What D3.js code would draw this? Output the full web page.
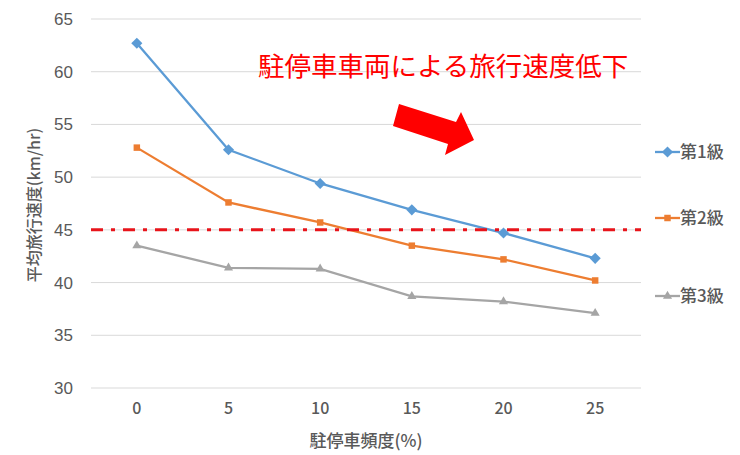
<!DOCTYPE html>
<html>
<head>
<meta charset="utf-8">
<script src="https://cdn.jsdelivr.net/npm/d3@7"></script>
<style>
  body { margin: 0; background: #fff; }
  svg { display: block; }
  text { font-family: "Noto Sans CJK JP", "Noto Sans", sans-serif; }
</style>
</head>
<body>
<svg id="chart" width="740" height="455"></svg>
<script>
// 駐停車頻度別の平均旅行速度
const categories = [0, 5, 10, 15, 20, 25];
const seriesNames = ["第1級", "第2級", "第3級"];
const speedClass1 = [62.7, 52.6, 49.4, 46.9, 44.7, 42.3];
const speedClass2 = [52.8, 47.6, 45.7, 43.5, 42.2, 40.2];
const speedClass3 = [43.5, 41.4, 41.3, 38.7, 38.2, 37.1];
const yTicks = [30, 35, 40, 45, 50, 55, 60, 65];
const thresholdSpeed = 45;
const annotationText = "駐停車車両による旅行速度低下";

// 縦横同じ幅のひし形マーカー
const squareDiamond = {
  draw(context, size) {
    const r = Math.sqrt(size / 2);
    context.moveTo(0, -r);
    context.lineTo(r, 0);
    context.lineTo(0, r);
    context.lineTo(-r, 0);
    context.closePath();
  }
};

const seriesColors = ["#5B9BD5", "#ED7D31", "#A5A5A5"];
const seriesShapes = [squareDiamond, d3.symbolSquare, d3.symbolTriangle];
const seriesSizes = [62, 42, 36];
const seriesData = [speedClass1, speedClass2, speedClass3];

const svg = d3.select("#chart");
const plot = { left: 91, right: 641, top: 19, bottom: 388 };

const x = d3.scaleBand()
  .domain(categories)
  .range([plot.left, plot.right]);
const y = d3.scaleLinear()
  .domain([30, 65])
  .range([plot.bottom, plot.top]);
const cx = d => x(d) + x.bandwidth() / 2;

// 目盛線
svg.append("g")
  .selectAll("line")
  .data(yTicks)
  .join("line")
  .attr("x1", plot.left)
  .attr("x2", plot.right)
  .attr("y1", d => y(d))
  .attr("y2", d => y(d))
  .attr("stroke", "#D9D9D9")
  .attr("stroke-width", 1);

// Y軸
const yAxis = svg.append("g")
  .attr("transform", `translate(${plot.left},0)`)
  .call(d3.axisLeft(y).tickValues(yTicks).tickSize(0).tickPadding(18));
yAxis.select(".domain").remove();
yAxis.selectAll("text")
  .attr("fill", "#595959")
  .style("font-size", "17px")
  .style("font-family", "'Liberation Sans', Arial, sans-serif");

// X軸
const xAxis = svg.append("g")
  .attr("transform", `translate(0,${plot.bottom})`)
  .call(d3.axisBottom(x).tickSize(0).tickPadding(15));
xAxis.select(".domain").remove();
xAxis.selectAll("text")
  .attr("fill", "#595959")
  .style("font-size", "16px")
  .style("font-weight", "500");

// 軸タイトル
svg.append("text")
  .attr("x", 366)
  .attr("y", 447)
  .attr("text-anchor", "middle")
  .attr("fill", "#595959")
  .style("font-size", "17px")
  .style("font-weight", "500")
  .text("駐停車頻度(%)");

svg.append("text")
  .attr("transform", "translate(40,205) rotate(-90)")
  .attr("text-anchor", "middle")
  .attr("fill", "#595959")
  .style("font-size", "16px")
  .style("font-weight", "500")
  .text("平均旅行速度(km/hr)");

// 系列の線とマーカー
const line = d3.line()
  .x((d, i) => cx(categories[i]))
  .y(d => y(d));

seriesData.forEach((vals, s) => {
  svg.append("path")
    .datum(vals)
    .attr("d", line)
    .attr("fill", "none")
    .attr("stroke", seriesColors[s])
    .attr("stroke-width", 2.3);
  svg.append("g")
    .selectAll("path")
    .data(vals)
    .join("path")
    .attr("transform", (d, i) => `translate(${cx(categories[i])},${y(d)})`)
    .attr("d", d3.symbol().type(seriesShapes[s]).size(seriesSizes[s]))
    .attr("fill", seriesColors[s]);
});

// 45 km/h の基準線
svg.append("line")
  .attr("x1", plot.left)
  .attr("x2", plot.right)
  .attr("y1", y(thresholdSpeed))
  .attr("y2", y(thresholdSpeed))
  .attr("stroke", "#E8141B")
  .attr("stroke-width", 3)
  .attr("stroke-dasharray", "12,8,4,8");

// 注記
svg.append("text")
  .attr("x", 258)
  .attr("y", 76)
  .attr("fill", "#FF0000")
  .style("font-size", "26.5px")
  .text(annotationText);

// 低下を示す矢印
const arrowPts = [
  [399, 104], [456, 122], [461, 112], [474, 140],
  [445, 155], [448, 144], [393, 126]
];
svg.append("path")
  .attr("d", d3.line()(arrowPts) + "Z")
  .attr("fill", "#FF0000");

// 凡例
const legendY = [152, 218, 296];
const legend = svg.append("g");
seriesNames.forEach((name, s) => {
  const g = legend.append("g").attr("transform", `translate(0,${legendY[s]})`);
  g.append("line")
    .attr("x1", 655).attr("x2", 680)
    .attr("y1", 0).attr("y2", 0)
    .attr("stroke", seriesColors[s])
    .attr("stroke-width", 2.3);
  g.append("path")
    .attr("transform", "translate(667.5,0)")
    .attr("d", d3.symbol().type(seriesShapes[s]).size(seriesSizes[s]))
    .attr("fill", seriesColors[s]);
  g.append("text")
    .attr("x", 680)
    .attr("y", 6)
    .attr("fill", "#595959")
    .style("font-size", "17px")
    .style("font-weight", "500")
    .text(name);
});
</script>
</body>
</html>
